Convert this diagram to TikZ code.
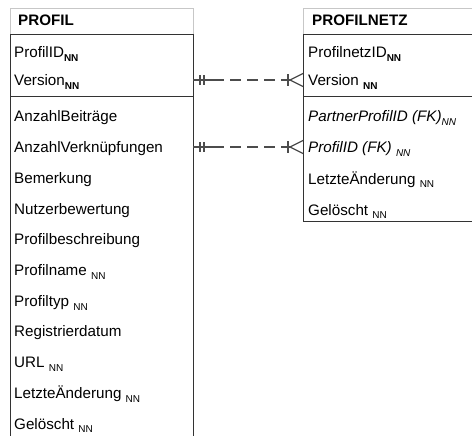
\documentclass[tikz,border=0pt]{standalone}
\usepackage{fontspec}
\setmainfont{Liberation Sans}
\begin{document}
\begin{tikzpicture}[x=1pt,y=-1pt,
  attr/.style={anchor=base west,inner sep=0pt,font=\fontsize{15.2}{17}\selectfont},
  title/.style={anchor=base west,inner sep=0pt,font=\bfseries\fontsize{15.2}{17}\selectfont},
  hdr/.style={draw=black!22,line width=0.9pt},
  frame/.style={draw=black!80,line width=1pt},
  rel/.style={draw=black!70,line width=1.2pt},
  reldash/.style={rel,dash pattern=on 11pt off 6pt}]
\newcommand{\nn}{\raisebox{-3.8pt}{\fontsize{10}{10}\selectfont NN}}
\newcommand{\nnb}{\raisebox{-3.8pt}{\bfseries\fontsize{10}{10}\selectfont NN}}
\newcommand{\nni}{\raisebox{-3.8pt}{\itshape\fontsize{10}{10}\selectfont NN}}
\clip (0,0) rectangle (472,436);
\fill[white] (0,0) rectangle (472,436);

% ---- PROFIL ----
\draw[hdr] (10,35) -- (10,8) -- (193,8) -- (193,35);
\draw[frame] (10,35) rectangle (193,97);
\draw[frame] (10,97) -- (10,440);
\draw[frame] (193,97) -- (193,440);
\node[title] (pT) at (18,26) {PROFIL};
\node[attr] (pK1) at (14,58) {ProfilID\nnb};
\node[attr] (pK2) at (14,86) {Version\nnb};
\foreach \t [count=\i from 0] in {AnzahlBeiträge,AnzahlVerknüpfungen,Bemerkung,Nutzerbewertung,Profilbeschreibung,Profilname \nn,Profiltyp \nn,Registrierdatum,URL \nn,LetzteÄnderung \nn,Gelöscht \nn}
  \node[attr] (pA\i) at (14,{122+30.7*\i}) {\t};

% ---- PROFILNETZ ----
\draw[hdr] (303,35) -- (303,8) -- (480,8);
\draw[frame] (303,35) rectangle (480,97);
\draw[frame] (303,97) -- (303,221) -- (480,221);
\node[title] (nT) at (312,26) {PROFILNETZ};
\node[attr] (nK1) at (308,58) {ProfilnetzID\nnb};
\node[attr] (nK2) at (308,86) {Version \nnb};
\node[attr] (nA0) at (308,122) {\itshape PartnerProfilID (FK)\nni};
\node[attr] (nA1) at (308,152.7) {\itshape ProfilID (FK) \nni};
\node[attr] (nA2) at (308,184) {LetzteÄnderung \nn};
\node[attr] (nA3) at (308,215) {Gelöscht \nn};

% ---- relationships: exactly one (PROFIL) to zero-or-many (PROFILNETZ) ----
\coordinate (l1) at (193,80);   \coordinate (r1) at (303,80);
\coordinate (l2) at (193,147);  \coordinate (r2) at (303,147);
\foreach \a/\b in {l1/r1,l2/r2}{
  \draw[rel] (\a) -- ++(20,0);
  \draw[reldash] ([xshift=20pt]\a) -- ([xshift=-15pt]\b);
  \draw[rel] ([xshift=7pt,yshift=-5pt]\a) -- ([xshift=7pt,yshift=5pt]\a);
  \draw[rel] ([xshift=11pt,yshift=-5pt]\a) -- ([xshift=11pt,yshift=5pt]\a);
  \draw[rel] ([xshift=-15pt,yshift=-6pt]\b) -- ([xshift=-15pt,yshift=6pt]\b);
  \draw[rel] ([yshift=-6.5pt]\b) -- ([xshift=-13pt]\b) -- ([yshift=6.5pt]\b);
  \draw[rel] ([xshift=-15pt]\b) -- ([xshift=-13pt]\b);
}
\end{tikzpicture}
\end{document}
